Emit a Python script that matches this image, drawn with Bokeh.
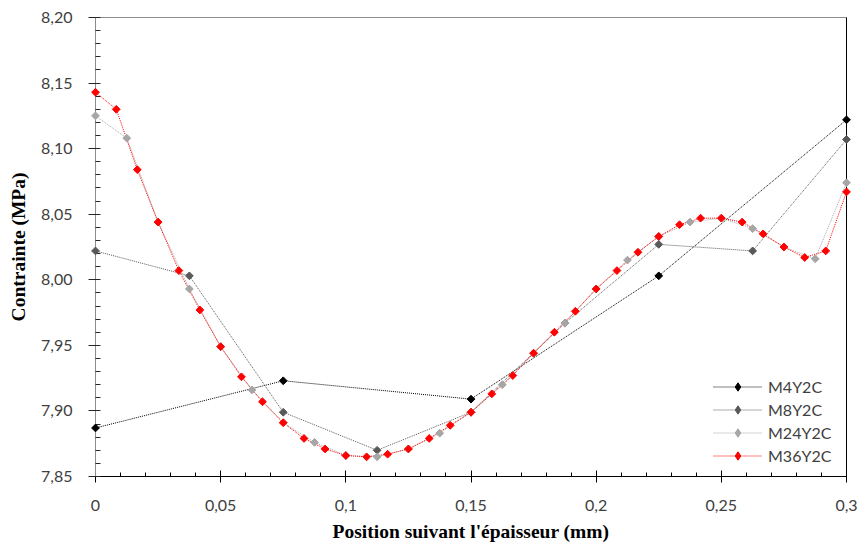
import math
from bokeh.plotting import figure
from bokeh.models import (Range1d, FixedTicker, Legend, LegendItem, LinearAxis,
                          CustomJSTickFormatter)
from bokeh.embed import file_html
from bokeh.resources import INLINE

# ---- data ----
x_m4 = [0, 0.075, 0.15, 0.225, 0.3]
y_m4 = [7.887, 7.923, 7.909, 8.003, 8.122]

x_m8 = [0, 0.0375, 0.075, 0.1125, 0.15, 0.1875, 0.225, 0.2625, 0.3]
y_m8 = [8.022, 8.003, 7.899, 7.870, 7.899, 7.967, 8.027, 8.022, 8.107]

x_m24 = [0, 0.0125, 0.025, 0.0375, 0.05, 0.0625, 0.075, 0.0875, 0.1, 0.1125,
         0.125, 0.1375, 0.15, 0.1625, 0.175, 0.1875, 0.2, 0.2125, 0.225,
         0.2375, 0.25, 0.2625, 0.275, 0.2875, 0.3]
y_m24 = [8.125, 8.108, 8.044, 7.993, 7.949, 7.916, 7.891, 7.876, 7.866, 7.865,
         7.871, 7.883, 7.899, 7.920, 7.944, 7.967, 7.993, 8.015, 8.033,
         8.044, 8.047, 8.039, 8.025, 8.016, 8.074]

x_m36 = [0, 0.0083, 0.0167, 0.025, 0.0333, 0.0417, 0.05, 0.0583, 0.0667, 0.075,
         0.0833, 0.0917, 0.1, 0.1083, 0.1167, 0.125, 0.1333, 0.1417, 0.15,
         0.1583, 0.1667, 0.175, 0.1833, 0.1917, 0.2, 0.2083, 0.2167, 0.225,
         0.2333, 0.2417, 0.25, 0.2583, 0.2667, 0.275, 0.2833, 0.2917, 0.3]
y_m36 = [8.143, 8.130, 8.084, 8.044, 8.007, 7.977, 7.949, 7.926, 7.907, 7.891,
         7.879, 7.871, 7.866, 7.865, 7.867, 7.871, 7.879, 7.889, 7.899,
         7.913, 7.927, 7.944, 7.960, 7.976, 7.993, 8.007, 8.021, 8.033,
         8.042, 8.047, 8.047, 8.044, 8.035, 8.025, 8.017, 8.022, 8.067]

series_names = ["M4Y2C", "M8Y2C", "M24Y2C", "M36Y2C"]
series_colors = ["#000000", "#595959", "#a6a6a6", "#ff0000"]

x_ticks = [0, 0.05, 0.1, 0.15, 0.2, 0.25, 0.3]
y_ticks = [7.85, 7.90, 7.95, 8.00, 8.05, 8.10, 8.15, 8.20]

x_title = "Position suivant l'épaisseur (mm)"
y_title = "Contrainte (MPa)"

# ---- figure ----
p = figure(width=861, height=548, output_backend="svg", toolbar_location=None,
           x_range=Range1d(0, 0.3), y_range=Range1d(7.85, 8.20),
           min_border_left=95, min_border_right=15, min_border_top=17,
           min_border_bottom=72)
p.grid.visible = False
p.outline_line_color = "#8c8c8c"
p.background_fill_color = "white"
p.border_fill_color = "white"

x_minor = [round(i * 0.01, 3) for i in range(31) if i % 5 != 0]
y_minor = [round(7.85 + i * 0.01, 3) for i in range(36) if i % 5 != 0]

xa = p.xaxis[0]
xa.ticker = FixedTicker(ticks=x_ticks, minor_ticks=x_minor)
xa.formatter = CustomJSTickFormatter(
    code="return String(Math.round(tick*100)/100).replace('.', ',');")
xa.axis_line_color = "black"
xa.major_tick_line_color = "black"
xa.minor_tick_line_color = "black"
xa.major_tick_in = 6
xa.major_tick_out = 6
xa.minor_tick_in = 4
xa.minor_tick_out = 0
xa.major_label_standoff = 17
xa.major_label_text_font = "Lato"
xa.major_label_text_font_size = "16px"
xa.major_label_text_color = "#404040"
xa.axis_label = x_title
xa.axis_label_standoff = 7
xa.axis_label_text_font = "Liberation Serif"
xa.axis_label_text_font_style = "bold"
xa.axis_label_text_font_size = "19.5px"
xa.axis_label_text_color = "black"

ya = p.yaxis[0]
ya.ticker = FixedTicker(ticks=y_ticks, minor_ticks=y_minor)
ya.formatter = CustomJSTickFormatter(
    code="return tick.toFixed(2).replace('.', ',');")
ya.axis_line_color = "#8c8c8c"
ya.major_tick_line_color = "#262626"
ya.minor_tick_line_color = "#262626"
ya.major_tick_in = 5
ya.major_tick_out = 7
ya.minor_tick_in = 5
ya.minor_tick_out = 0
ya.major_label_standoff = 16
ya.major_label_text_font = "Lato"
ya.major_label_text_font_size = "16px"
ya.major_label_text_color = "#404040"
ya.axis_label = y_title
ya.axis_label_standoff = 9
ya.axis_label_text_font = "Liberation Serif"
ya.axis_label_text_font_style = "bold"
ya.axis_label_text_font_size = "19.5px"
ya.axis_label_text_color = "black"

right_axis = LinearAxis(ticker=FixedTicker(ticks=[]), axis_line_color="black",
                        major_tick_line_color=None, minor_tick_line_color=None)
p.add_layout(right_axis, "right")

xs = [x_m4, x_m8, x_m24, x_m36]
ys = [y_m4, y_m8, y_m24, y_m36]
items = []
for name, col, xv, yv in zip(series_names, series_colors, xs, ys):
    ln = p.line(xv, yv, line_color=col, line_dash="1 1", line_width=1)
    p.scatter(xv, yv, marker="square", angle=math.pi / 4, size=5.5,
              fill_color=col, line_color=col, level="overlay")
    # legend-only glyph (diamond), not drawn in the plot area
    lg = p.scatter(xv[:1], yv[:1], marker="diamond", fill_color=col,
                   line_color=col, visible=False)
    items.append(LegendItem(label=name, renderers=[ln, lg]))

legend = Legend(items=items, location=(618, 10), padding=0, margin=0,
                spacing=2, glyph_width=49, glyph_height=21, label_height=21,
                label_standoff=6, label_text_font="Lato",
                label_text_font_size="16px", label_text_color="#404040",
                border_line_color=None, background_fill_alpha=0)
p.add_layout(legend)

open("out.html", "w").write(file_html(p, INLINE))
